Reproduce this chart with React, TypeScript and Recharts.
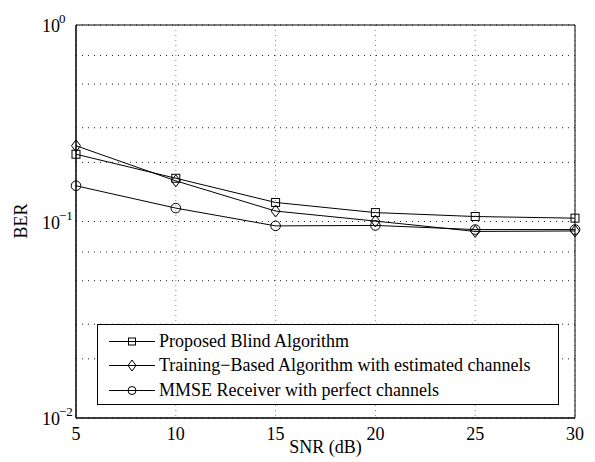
import React from 'react'
import {
  LineChart, Line, XAxis, YAxis, CartesianGrid, ReferenceArea
} from 'recharts'

document.body.style.margin = '0'

const snr = [5, 10, 15, 20, 25, 30]
const blind = [0.22, 0.166, 0.125, 0.111, 0.106, 0.104]
const training = [0.243, 0.161, 0.113, 0.1005, 0.089, 0.0895]
const mmse = [0.152, 0.117, 0.095, 0.0955, 0.091, 0.091]

const xTicks = [5, 10, 15, 20, 25, 30]
const yTicks = [
  0.01, 0.02, 0.03, 0.04, 0.05, 0.06, 0.07, 0.08, 0.09,
  0.1, 0.2, 0.3, 0.4, 0.5, 0.6, 0.7, 0.8, 0.9, 1,
]

const seriesNames = [
  'Proposed Blind Algorithm',
  'Training\u2212Based Algorithm with estimated channels',
  'MMSE Receiver with perfect channels',
]

const data = snr.map((s, i) => ({ snr: s, blind: blind[i], training: training[i], mmse: mmse[i] }))

const FONT = 'Liberation Serif, serif'

const Square = ({ cx, cy, s = 4 }: any) => (
  <rect x={cx - s} y={cy - s} width={2 * s} height={2 * s} fill="none" stroke="#000" strokeWidth={1} />
)
const Diamond = ({ cx, cy, w = 4.5, h = 6 }: any) => (
  <path d={`M${cx},${cy - h}L${cx + w},${cy}L${cx},${cy + h}L${cx - w},${cy}Z`} fill="none" stroke="#000" strokeWidth={1} />
)
const Circle = ({ cx, cy, r = 4.8 }: any) => (
  <circle cx={cx} cy={cy} r={r} fill="none" stroke="#000" strokeWidth={1} />
)

const XTick = ({ x, y, payload }: any) => (
  <text x={x} y={y + 22} textAnchor="middle" style={{ fontFamily: FONT, fontSize: 18 }} fill="#000">
    {payload.value}
  </text>
)

const YTick = ({ y, payload }: any) => {
  const e = Math.log10(payload.value)
  if (Math.abs(e - Math.round(e)) > 1e-6) return null
  const exp = Math.round(e)
  return (
    <g>
      <text x={42} y={y + 7} style={{ fontFamily: FONT, fontSize: 18 }} fill="#000">10</text>
      <text x={59} y={y - 2} style={{ fontFamily: FONT, fontSize: 13 }} fill="#000">
        {exp === 0 ? '0' : '\u2212' + Math.abs(exp)}
      </text>
    </g>
  )
}

const markers = [
  (p: any) => <Square key={p.key} cx={p.cx} cy={p.cy} />,
  (p: any) => <Diamond key={p.key} cx={p.cx} cy={p.cy} />,
  (p: any) => <Circle key={p.key} cx={p.cx} cy={p.cy} />,
]

function LegendBox() {
  const icons = [
    <Square cx={23} cy={12.5} s={3.5} />,
    <Diamond cx={23} cy={12.5} w={4} h={5.5} />,
    <Circle cx={23} cy={12.5} r={4} />,
  ]
  return (
    <div
      style={{
        position: 'absolute', left: 97, top: 324, width: 462, height: 81,
        border: '1px solid #000', background: '#fff', boxSizing: 'border-box',
        paddingTop: 4, fontFamily: FONT, fontSize: 18,
      }}
    >
      {seriesNames.map((n, i) => (
        <div key={n} style={{ display: 'flex', alignItems: 'center', height: 24.5 }}>
          <svg width={57} height={25} style={{ marginLeft: 11 }}>
            <line x1={0} y1={12.5} x2={46} y2={12.5} stroke="#000" strokeWidth={1} />
            {icons[i]}
          </svg>
          <span style={{ marginLeft: -7, whiteSpace: 'nowrap' }}>{n}</span>
        </div>
      ))}
    </div>
  )
}

export default function App() {
  return (
    <div style={{ position: 'relative', width: 595, height: 462, background: '#fff', fontFamily: FONT }}>
      <LineChart width={595} height={462} data={data} margin={{ top: 25, right: 20, left: 0, bottom: 0 }}>
        <CartesianGrid vertical={false} stroke="#222" strokeDasharray="1 5" />
        <CartesianGrid horizontal={false} stroke="#888" strokeDasharray="1 4" />
        <XAxis
          dataKey="snr"
          type="number"
          domain={[5, 30]}
          ticks={xTicks}
          tick={<XTick />}
          tickLine={false}
          tickSize={0}
          tickMargin={0}
          height={44}
          axisLine={{ stroke: '#000' }}
          label={{
            content: () => (
              <text x={325.5} y={453} textAnchor="middle" style={{ fontFamily: FONT, fontSize: 18 }} fill="#000">SNR (dB)</text>
            ),
          }}
        />
        <YAxis
          scale="log"
          domain={[0.01, 1]}
          allowDataOverflow
          ticks={yTicks}
          tick={<YTick />}
          tickLine={false}
          tickSize={0}
          tickMargin={0}
          width={76}
          axisLine={{ stroke: '#000' }}
          label={{
            content: () => (
              <text x={27} y={221} transform="rotate(-90 27 221)" textAnchor="middle" style={{ fontFamily: FONT, fontSize: 18 }} fill="#000">BER</text>
            ),
          }}
        />
        <ReferenceArea x1={5} x2={30} y1={0.01} y2={1} fill="none" stroke="#000" strokeWidth={1} />
        <Line dataKey="blind" stroke="#000" strokeWidth={1} dot={markers[0]} isAnimationActive={false} />
        <Line dataKey="training" stroke="#000" strokeWidth={1} dot={markers[1]} isAnimationActive={false} />
        <Line dataKey="mmse" stroke="#000" strokeWidth={1} dot={markers[2]} isAnimationActive={false} />
      </LineChart>
      <LegendBox />
    </div>
  )
}
